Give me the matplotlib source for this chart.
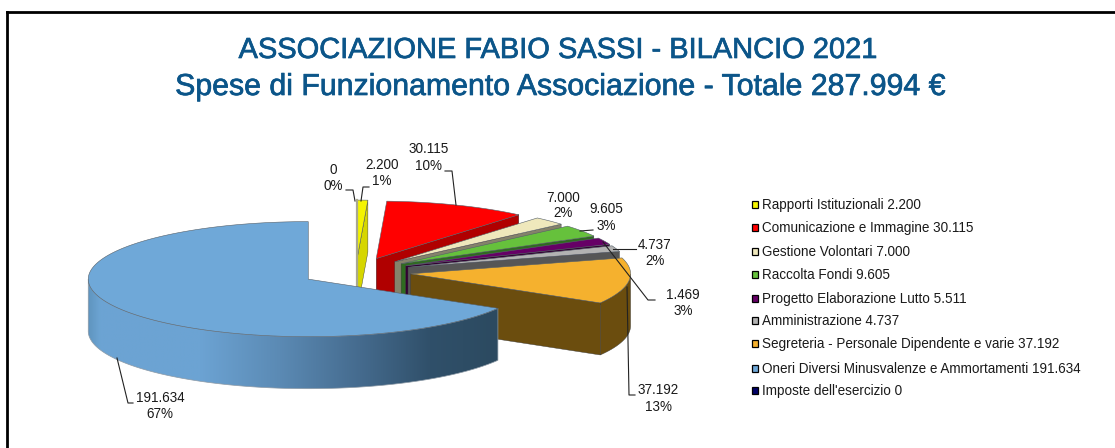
import numpy as np
import matplotlib
matplotlib.use("Agg")
import matplotlib.pyplot as plt
import matplotlib.patheffects as pe
from matplotlib.colors import to_rgb
from matplotlib.patches import Polygon, Rectangle

plt.rcParams['font.family'] = ['Liberation Sans', 'DejaVu Sans']

categories = ["Rapporti Istituzionali", "Comunicazione e Immagine", "Gestione Volontari",
              "Raccolta Fondi", "Progetto Elaborazione Lutto", "Amministrazione",
              "Segreteria - Personale Dipendente e varie",
              "Oneri Diversi Minusvalenze e Ammortamenti", "Imposte dell'esercizio"]
values = [2200, 30115, 7000, 9605, 5511, 4737, 37192, 191634, 0]
value_labels = ["2.200", "30.115", "7.000", "9.605", "5.511", "4.737", "37.192", "191.634", "0"]
top_colors = ["#F4F400", "#FF0000", "#EFE8BC", "#66C13C", "#660066", "#B2B2B2", "#F5B12E", "#6FA8D8", "#000066"]
side_colors = ["#D6D600", "#B00000", "#85826A", "#2F6B20", "#330033", "#565656", "#6B4D0E", "#6FA8D8", "#000033"]
total_text = "287.994"

W, H = 1115, 448
fig = plt.figure(figsize=(W / 100, H / 100), dpi=100)
ax = fig.add_axes([0, 0, 1, 1])
ax.axis("off")

CX, CY, RX, KY, DEPTH, EXPL = 356.0, 272.0, 220.0, 0.2615, 52.0, 55.0


def project(offset_deg, angle_deg, radius, z=0.0):
    a = np.radians(angle_deg)
    o = np.radians(offset_deg)
    x = CX + EXPL * np.cos(o) + radius * np.cos(a)
    y = CY - (EXPL * np.sin(o) + radius * np.sin(a)) * KY + z
    return x, y


def blue_shade(x):
    stops_x = [88, 100, 200, 280, 360, 430, 497]
    stops = [to_rgb(c) for c in ["#5F94BE", "#6CA4D3", "#6CA3D3", "#5B8AB4", "#456B8E", "#30506A", "#2C4A60"]]
    return np.stack([np.interp(x, stops_x, [s[i] for s in stops]) for i in range(3)], axis=-1)


def draw_slice(a_start, a_end, top, side, zbase, gradient=False):
    mid = (a_start + a_end) / 2
    angs = np.linspace(a_start, a_end, max(int(abs(a_start - a_end) * 3), 8))
    ax_, ay_ = project(mid, 0, 0)
    rimx, rimy = project(mid, angs, RX)
    if not gradient:
        ex, ey = project(mid, a_end, RX)
        face = [(ax_, ay_), (ex, ey), (ex, ey + DEPTH), (ax_, ay_ + DEPTH)]
        ax.add_patch(Polygon(face, closed=True, fc=side, ec="#3a3a3a", lw=0.3, zorder=zbase))
    front = np.sin(np.radians(angs)) < 0
    if front.any():
        fx, fy = rimx[front], rimy[front]
        wall = list(zip(fx, fy)) + list(zip(fx[::-1], fy[::-1] + DEPTH))
        if gradient:
            patch = Polygon(wall, closed=True, fc="none", ec="#8d9aa6", lw=0.5, zorder=zbase + 0.1)
            ax.add_patch(patch)
            xs = np.linspace(fx.min(), fx.max(), 512)
            im = ax.imshow(blue_shade(xs)[None, :, :], extent=(fx.min(), fx.max(), fy.max() + DEPTH, fy.min()),
                           aspect="auto", zorder=zbase, interpolation="bilinear")
            clip = Polygon(wall, closed=True, transform=ax.transData)
            im.set_clip_path(clip)
        else:
            ax.add_patch(Polygon(wall, closed=True, fc=side, ec="#3a3a3a", lw=0.3, zorder=zbase))
    poly = [(ax_, ay_)] + list(zip(rimx, rimy))
    ax.add_patch(Polygon(poly, closed=True, fc=top, ec="#55606a", lw=0.4, zorder=zbase + 0.2))


# border of the slide: left and top only are inside the crop
ax.plot([7.2, 7.2], [H, 12.3], color="black", lw=2.0, solid_joinstyle="miter", zorder=1)
ax.plot([7.2, W], [12.3, 12.3], color="black", lw=2.0, solid_joinstyle="miter", zorder=1)

# title
stroke = [pe.withStroke(linewidth=0.5, foreground="#0B5589")]
ax.text(557.5, 50, "ASSOCIAZIONE FABIO SASSI - BILANCIO 2021", color="#0B5589", fontsize=20.9,
        ha="center", va="center", zorder=5, path_effects=stroke)
ax.text(560, 87, "Spese di Funzionamento Associazione - Totale " + total_text + " €", color="#0B5589",
        fontsize=21.8, ha="center", va="center", zorder=5, path_effects=stroke)

# slices, clockwise from the top
total = sum(values)
angle = 90.0
for i, v in enumerate(values):
    ext = v / total * 360
    if v > 0:
        draw_slice(angle, angle - ext, top_colors[i], side_colors[i], 2 + i, gradient=(i == 7))
        if i == 0:
            mid = angle - ext / 2
            x0, y0 = project(mid, angle, RX)
            ax.plot([x0, x0], [y0, y0 + 88], color="#A8A890", lw=1.6, zorder=2.5)
    angle -= ext

# data labels
data_labels = [("0", "0%", 333, 170, 186), ("2.200", "1%", 382, 165, 181), ("30.115", "10%", 429, 149, 166),
               ("7.000", "2%", 563, 198, 213), ("9.605", "3%", 606, 209, 226), ("4.737", "2%", 655, 245, 261),
               ("1.469", "3%", 683, 295, 311), ("37.192", "13%", 658, 390, 407), ("191.634", "67%", 160, 398, 414)]
for a, b, x, y1, y2 in data_labels:
    ax.text(x, y1, a, fontsize=9.72, color="#1a1a1a", ha="center", va="center", zorder=20)
    ax.text(x, y2, b, fontsize=9.72, color="#1a1a1a", ha="center", va="center", zorder=20)

leaders = [[(346, 190), (353, 190), (355, 201)], [(369, 187), (363, 187), (361, 201)],
           [(445, 171), (452, 171), (456, 205)], [(593, 230), (580, 231)], [(636, 249), (613, 249)],
           [(655, 300), (648, 300), (603, 242)], [(635, 395), (629, 395), (627, 287)],
           [(133, 403), (128, 403), (117, 358)]]
for pts in leaders:
    xs, ys = zip(*pts)
    ax.plot(xs, ys, color="#222222", lw=0.8, zorder=19)

# legend
legend_y = [205, 228, 251.5, 275, 299, 321, 344, 369, 391]
for i, y in enumerate(legend_y):
    ax.add_patch(Rectangle((751.5, y - 3.5), 6.5, 7, fc=top_colors[i], ec="black", lw=0.9, zorder=10))
    ax.text(761.5, y, f"{categories[i]} {value_labels[i]}", fontsize=9.72, color="#1a1a1a",
            ha="left", va="center", zorder=10)

ax.set_xlim(0, W)
ax.set_ylim(H, 0)
fig.savefig("out.png", dpi=100)
